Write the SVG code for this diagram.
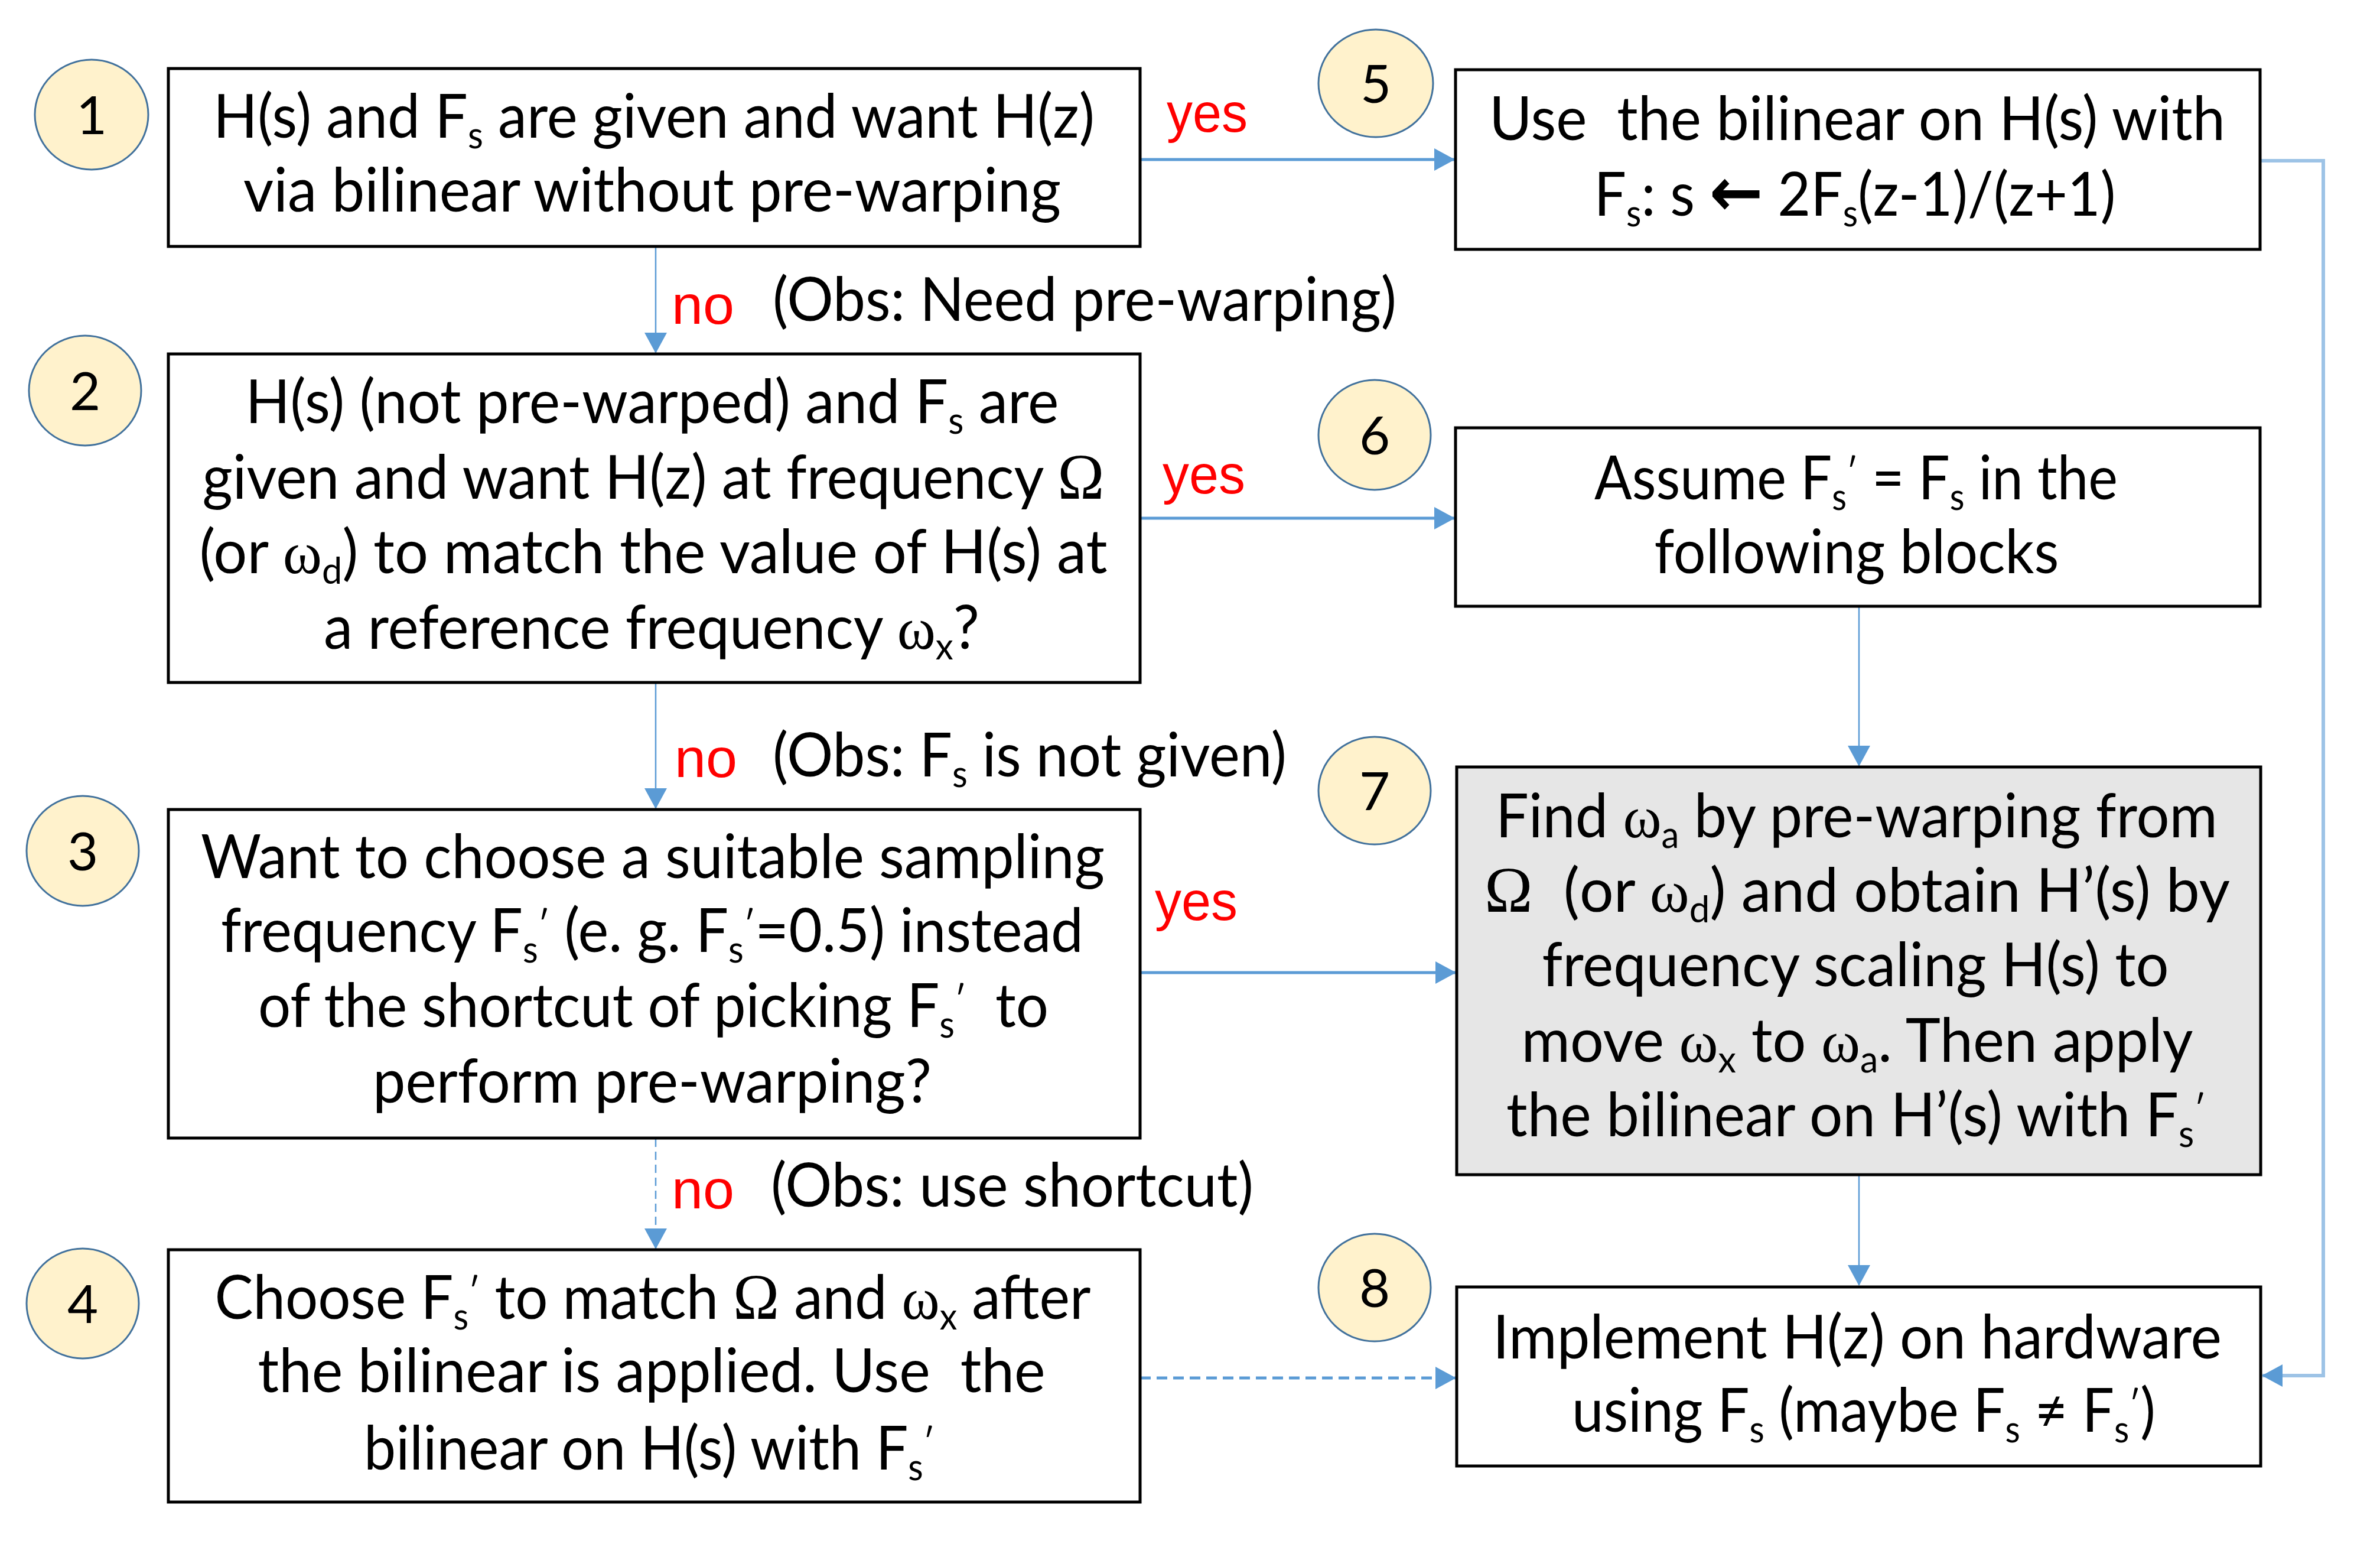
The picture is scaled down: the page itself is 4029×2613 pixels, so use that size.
<svg xmlns="http://www.w3.org/2000/svg" width="4029" height="2613" viewBox="0 0 4029 2613">
<style>
.box{fill:#fff;stroke:#000;stroke-width:5}
.grey{fill:#e6e6e6}
.num{fill:#fff2cc;stroke:#41719c;stroke-width:3}
.n{font-family:Lato,"Open Sans",sans-serif;font-size:90px;text-anchor:middle;fill:#000}
.t{font-family:Lato,"Open Sans",sans-serif;font-size:102px;text-anchor:middle;fill:#000;white-space:pre}
.o{font-family:Lato,"Open Sans",sans-serif;font-size:102px;fill:#000;white-space:pre}
.sub{font-size:62px}
.g{font-family:"Liberation Serif","DejaVu Serif",serif}
.G{font-family:"Liberation Serif","DejaVu Serif",serif;font-size:110px}
.r{font-family:"Liberation Sans",Arial,sans-serif;font-size:92px;fill:#ff0000}
.arr{font-family:"DejaVu Sans",sans-serif;font-weight:bold;font-size:115px}
.c{fill:none;stroke:#5b9bd5}
.thick{stroke-width:5}
.thin{stroke-width:2.5}
</style>
<defs>
<marker id="ah" markerUnits="userSpaceOnUse" markerWidth="36" markerHeight="38" refX="34" refY="19" orient="auto" viewBox="0 0 36 38">
<path d="M0,0 L35,19 L0,38 z" fill="#5b9bd5"/>
</marker>
</defs>

<g id="connectors">
<line class="c thick" x1="1930" y1="270" x2="2462" y2="270" marker-end="url(#ah)"/>
<line class="c thin" x1="1110" y1="418" x2="1110" y2="597" marker-end="url(#ah)"/>
<line class="c thick" x1="1930" y1="877" x2="2462" y2="877" marker-end="url(#ah)"/>
<line class="c thin" x1="1110" y1="1156" x2="1110" y2="1368" marker-end="url(#ah)"/>
<line class="c thick" x1="1930" y1="1646" x2="2464" y2="1646" marker-end="url(#ah)"/>
<line class="c thin" x1="1110" y1="1927" x2="1110" y2="2113" stroke-dasharray="14 8" marker-end="url(#ah)"/>
<line class="c" stroke-width="5" x1="1930" y1="2332" x2="2464" y2="2332" stroke-dasharray="18 10" marker-end="url(#ah)"/>
<line class="c thin" x1="3147" y1="1027" x2="3147" y2="1296" marker-end="url(#ah)"/>
<line class="c thin" x1="3147" y1="1989" x2="3147" y2="2175" marker-end="url(#ah)"/>
<polyline fill="none" stroke="#9dc3e6" stroke-width="6" points="3826,272 3933,272 3933,2328 3830,2328" marker-end="url(#ah)"/>
</g>

<g id="labels">
<text class="r" x="1975" y="223" textLength="137" lengthAdjust="spacingAndGlyphs">yes</text>
<text class="r" x="1968" y="835" textLength="140" lengthAdjust="spacingAndGlyphs">yes</text>
<text class="r" x="1955" y="1557" textLength="140" lengthAdjust="spacingAndGlyphs">yes</text>
<text class="r" x="1137" y="548" textLength="106" lengthAdjust="spacingAndGlyphs">no</text>
<text class="r" x="1142" y="1315" textLength="106" lengthAdjust="spacingAndGlyphs">no</text>
<text class="r" x="1137" y="2045" textLength="106" lengthAdjust="spacingAndGlyphs">no</text>
<text class="o" x="1308" y="543" textLength="1056" lengthAdjust="spacingAndGlyphs">(Obs: Need pre-warping)</text>
<text class="o" x="1308" y="1314" textLength="870" lengthAdjust="spacingAndGlyphs">(Obs: F<tspan class="sub" dy="18">s</tspan><tspan dy="-18"> is not given)</tspan></text>
<text class="o" x="1305" y="2042" textLength="817" lengthAdjust="spacingAndGlyphs">(Obs: use shortcut)</text>
</g>

<g id="node1">
<rect class="box" x="285" y="116" width="1645" height="301"/>
<ellipse class="num" cx="155" cy="194" rx="96" ry="93"/>
<text class="n" x="155" y="227">1</text>
<text class="t" x="1107" y="233" textLength="1492" lengthAdjust="spacingAndGlyphs">H(s) and F<tspan class="sub" dy="18">s</tspan><tspan dy="-18"> are given and want H(z)</tspan></text>
<text class="t" x="1104" y="358" textLength="1384" lengthAdjust="spacingAndGlyphs">via bilinear without pre-warping</text>
</g>

<g id="node2">
<rect class="box" x="285" y="599" width="1645" height="556"/>
<ellipse class="num" cx="144" cy="661" rx="95" ry="93"/>
<text class="n" x="144" y="694">2</text>
<text class="t" x="1104" y="716" textLength="1377" lengthAdjust="spacingAndGlyphs">H(s) (not pre-warped) and F<tspan class="sub" dy="18">s</tspan><tspan dy="-18"> are</tspan></text>
<text class="t" x="1106" y="844" textLength="1527" lengthAdjust="spacingAndGlyphs">given and want H(z) at frequency <tspan class="G">Ω</tspan></text>
<text class="t" x="1106" y="970" textLength="1537" lengthAdjust="spacingAndGlyphs">(or <tspan class="g">ω</tspan><tspan class="sub" dy="18">d</tspan><tspan dy="-18">) to match the value of H(s) at</tspan></text>
<text class="t" x="1103" y="1098" textLength="1110" lengthAdjust="spacingAndGlyphs">a reference frequency <tspan class="g">ω</tspan><tspan class="sub" dy="18">x</tspan><tspan dy="-18">?</tspan></text>
</g>

<g id="node3">
<rect class="box" x="285" y="1370" width="1645" height="556"/>
<ellipse class="num" cx="140" cy="1440" rx="95" ry="93"/>
<text class="n" x="140" y="1473">3</text>
<text class="t" x="1105" y="1486" textLength="1530" lengthAdjust="spacingAndGlyphs">Want to choose a suitable sampling</text>
<text class="t" x="1104" y="1611" textLength="1460" lengthAdjust="spacingAndGlyphs">frequency F<tspan class="sub" dy="18">s</tspan><tspan class="sub" dy="-43">′</tspan><tspan dy="25"> (e. g. F</tspan><tspan class="sub" dy="18">s</tspan><tspan class="sub" dy="-43">′</tspan><tspan dy="25">=0.5) instead</tspan></text>
<text class="t" x="1106" y="1738" textLength="1338" lengthAdjust="spacingAndGlyphs">of the shortcut of picking F<tspan class="sub" dy="18">s</tspan><tspan class="sub" dy="-43">′</tspan><tspan dy="25">  to</tspan></text>
<text class="t" x="1104" y="1866" textLength="946" lengthAdjust="spacingAndGlyphs">perform pre-warping?</text>
</g>

<g id="node4">
<rect class="box" x="285" y="2115" width="1645" height="427"/>
<ellipse class="num" cx="140" cy="2206" rx="95" ry="93"/>
<text class="n" x="140" y="2239">4</text>
<text class="t" x="1105" y="2232" textLength="1483" lengthAdjust="spacingAndGlyphs">Choose F<tspan class="sub" dy="18">s</tspan><tspan class="sub" dy="-43">′</tspan><tspan dy="25"> to match </tspan><tspan class="G">Ω</tspan><tspan> and </tspan><tspan class="g">ω</tspan><tspan class="sub" dy="18">x</tspan><tspan dy="-18"> after</tspan></text>
<text class="t" x="1103" y="2356" textLength="1333" lengthAdjust="spacingAndGlyphs">the bilinear is applied. Use  the</text>
<text class="t" x="1099" y="2487" textLength="966" lengthAdjust="spacingAndGlyphs">bilinear on H(s) with F<tspan class="sub" dy="18">s</tspan><tspan class="sub" dy="-43">′</tspan></text>
</g>

<g id="node5">
<rect class="box" x="2464" y="118" width="1362" height="304"/>
<ellipse class="num" cx="2329" cy="141" rx="97" ry="91"/>
<text class="n" x="2329" y="174">5</text>
<text class="t" x="3144" y="237" textLength="1246" lengthAdjust="spacingAndGlyphs">Use  the bilinear on H(s) with</text>
<text class="t" x="3140" y="365" textLength="883" lengthAdjust="spacingAndGlyphs">F<tspan class="sub" dy="18">s</tspan><tspan dy="-18">: s </tspan><tspan class="arr">←</tspan><tspan> 2F</tspan><tspan class="sub" dy="18">s</tspan><tspan dy="-18">(z-1)/(z+1)</tspan></text>
</g>

<g id="node6">
<rect class="box" x="2464" y="724" width="1362" height="302"/>
<ellipse class="num" cx="2327" cy="736" rx="95" ry="93"/>
<text class="n" x="2327" y="769">6</text>
<text class="t" x="3142" y="845" textLength="886" lengthAdjust="spacingAndGlyphs">Assume F<tspan class="sub" dy="18">s</tspan><tspan class="sub" dy="-43">′</tspan><tspan dy="25"> = F</tspan><tspan class="sub" dy="18">s</tspan><tspan dy="-18"> in the</tspan></text>
<text class="t" x="3143" y="970" textLength="685" lengthAdjust="spacingAndGlyphs">following blocks</text>
</g>

<g id="node7">
<rect class="box grey" x="2466" y="1298" width="1361" height="690"/>
<ellipse class="num" cx="2327" cy="1338" rx="95" ry="91"/>
<text class="n" x="2327" y="1371">7</text>
<text class="t" x="3143" y="1417" textLength="1222" lengthAdjust="spacingAndGlyphs">Find <tspan class="g">ω</tspan><tspan class="sub" dy="18">a</tspan><tspan dy="-18"> by pre-warping from</tspan></text>
<text class="t" x="3144" y="1543" textLength="1262" lengthAdjust="spacingAndGlyphs"><tspan class="G">Ω</tspan><tspan>  (or </tspan><tspan class="g">ω</tspan><tspan class="sub" dy="18">d</tspan><tspan dy="-18">) and obtain H’(s) by</tspan></text>
<text class="t" x="3141" y="1669" textLength="1061" lengthAdjust="spacingAndGlyphs">frequency scaling H(s) to</text>
<text class="t" x="3144" y="1797" textLength="1137" lengthAdjust="spacingAndGlyphs">move <tspan class="g">ω</tspan><tspan class="sub" dy="18">x</tspan><tspan dy="-18"> to </tspan><tspan class="g">ω</tspan><tspan class="sub" dy="18">a</tspan><tspan dy="-18">. Then apply</tspan></text>
<text class="t" x="3142" y="1923" textLength="1184" lengthAdjust="spacingAndGlyphs">the bilinear on H’(s) with F<tspan class="sub" dy="18">s</tspan><tspan class="sub" dy="-43">′</tspan></text>
</g>

<g id="node8">
<rect class="box" x="2466" y="2178" width="1361" height="303"/>
<ellipse class="num" cx="2327" cy="2179" rx="95" ry="91"/>
<text class="n" x="2327" y="2212">8</text>
<text class="t" x="3144" y="2299" textLength="1234" lengthAdjust="spacingAndGlyphs">Implement H(z) on hardware</text>
<text class="t" x="3155" y="2423" textLength="988" lengthAdjust="spacingAndGlyphs">using F<tspan class="sub" dy="18">s</tspan><tspan dy="-18"> (maybe F</tspan><tspan class="sub" dy="18">s</tspan><tspan dy="-18"> ≠ F</tspan><tspan class="sub" dy="18">s</tspan><tspan class="sub" dy="-43">′</tspan><tspan dy="25">)</tspan></text>
</g>
</svg>
